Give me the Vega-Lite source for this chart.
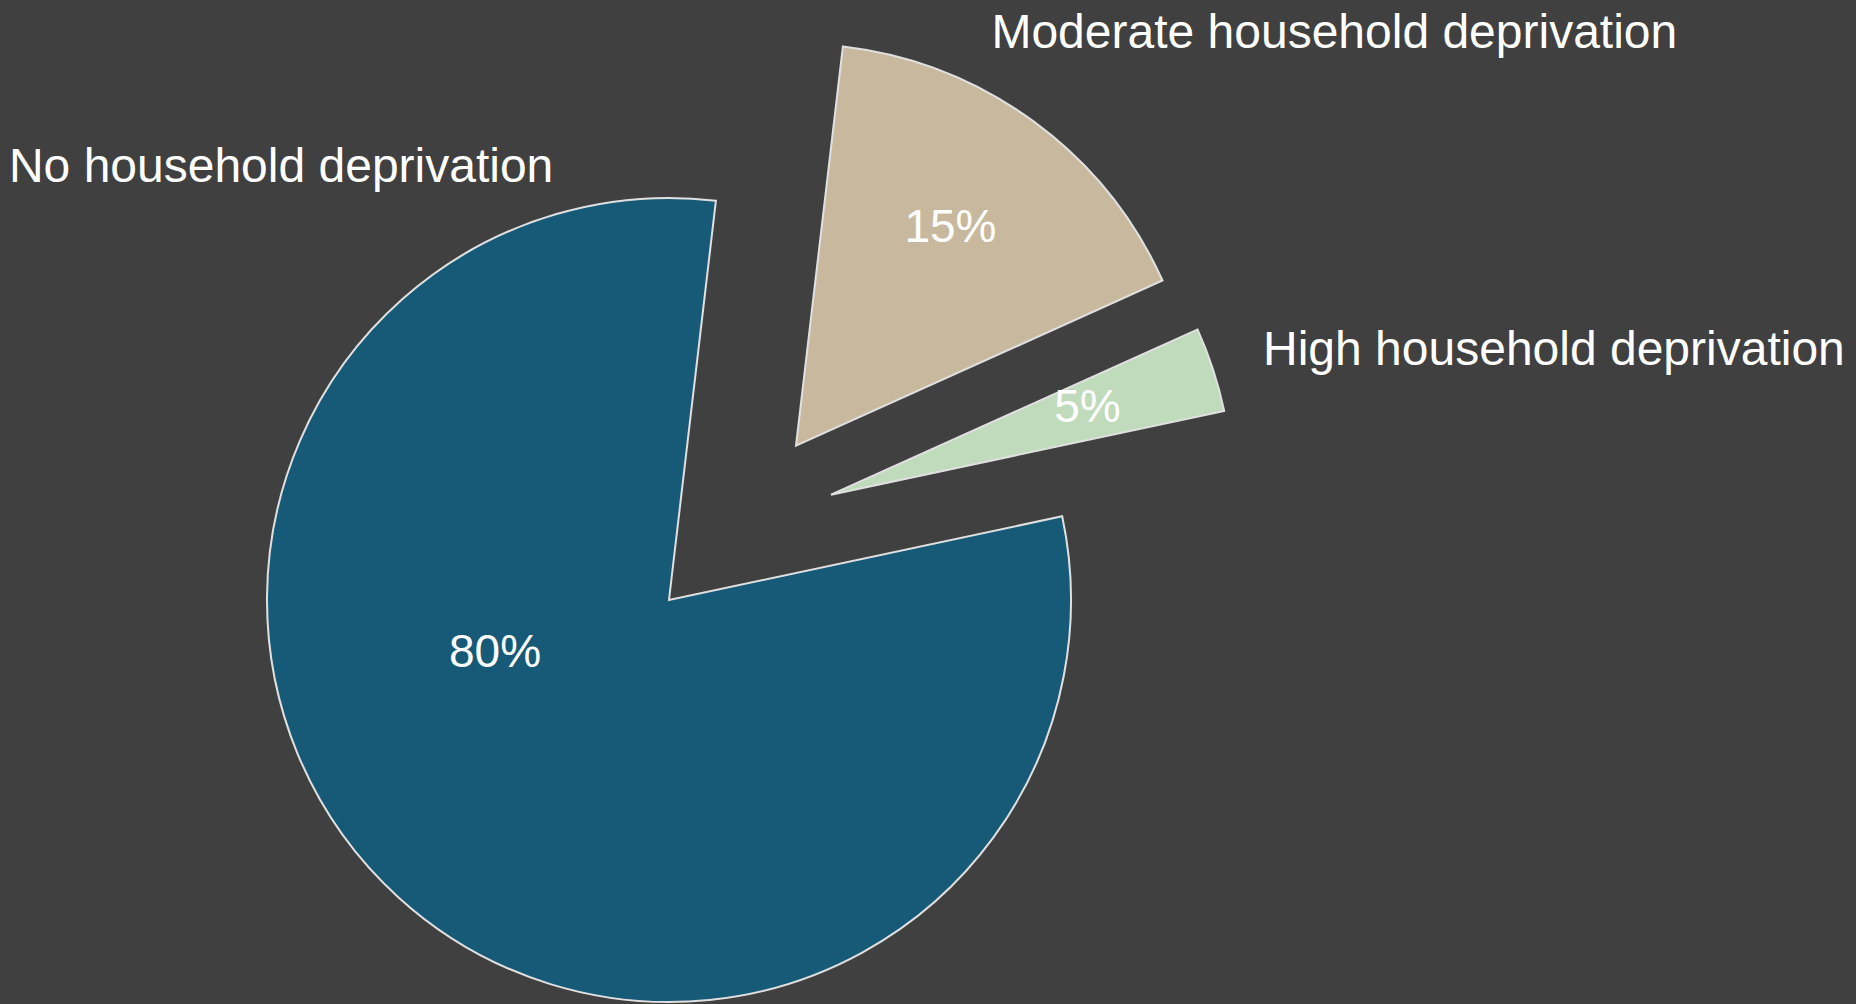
{
  "$schema": "https://vega.github.io/schema/vega-lite/v6.json",
  "width": 1338,
  "height": 808,
  "autosize": {"type": "none"},
  "padding": {"left": 0, "top": 196, "right": 518, "bottom": 0},
  "background": "#404040",
  "config": {"view": {"stroke": null}},
  "data": {
    "values": [
      {"category": "Moderate household deprivation", "value": 16.4, "label": "15%", "order": 1},
      {"category": "High household deprivation", "value": 3.4, "label": "5%", "order": 2},
      {"category": "No household deprivation", "value": 80.2, "label": "80%", "order": 3}
    ]
  },
  "transform": [
    {"stack": "value", "groupby": [], "sort": [{"field": "order", "order": "ascending"}], "as": ["v0", "v1"]},
    {"calculate": "(datum.v0 + datum.v1) / 2", "as": "mid"}
  ],
  "layer": [
    {
      "transform": [{"filter": "datum.category === 'No household deprivation'"}],
      "mark": {"type": "arc", "radius": 402, "stroke": "#e0e0e0", "strokeWidth": 2},
      "encoding": {
        "theta": {"field": "v0", "type": "quantitative", "scale": {"type": "linear", "domain": [0, 100], "range": [0.11694, 6.40013]}},
        "theta2": {"field": "v1"},
        "color": {"field": "category", "type": "nominal", "scale": {"domain": ["No household deprivation", "Moderate household deprivation", "High household deprivation"], "range": ["#175A77", "#C8B99E", "#BFDBBB"]}, "legend": null}
      }
    },
    {
      "transform": [{"filter": "datum.category === 'Moderate household deprivation'"}],
      "mark": {"type": "arc", "radius": 402, "stroke": "#e0e0e0", "strokeWidth": 2, "xOffset": 127, "yOffset": -154.3},
      "encoding": {
        "theta": {"field": "v0", "type": "quantitative", "scale": {"type": "linear", "domain": [0, 100], "range": [0.11694, 6.40013]}},
        "theta2": {"field": "v1"},
        "color": {"field": "category", "type": "nominal", "scale": {"domain": ["No household deprivation", "Moderate household deprivation", "High household deprivation"], "range": ["#175A77", "#C8B99E", "#BFDBBB"]}, "legend": null}
      }
    },
    {
      "transform": [{"filter": "datum.category === 'High household deprivation'"}],
      "mark": {"type": "arc", "radius": 402, "stroke": "#e0e0e0", "strokeWidth": 2, "xOffset": 162, "yOffset": -105.3},
      "encoding": {
        "theta": {"field": "v0", "type": "quantitative", "scale": {"type": "linear", "domain": [0, 100], "range": [0.11694, 6.40013]}},
        "theta2": {"field": "v1"},
        "color": {"field": "category", "type": "nominal", "scale": {"domain": ["No household deprivation", "Moderate household deprivation", "High household deprivation"], "range": ["#175A77", "#C8B99E", "#BFDBBB"]}, "legend": null}
      }
    },
    {
      "transform": [{"filter": "datum.category === 'No household deprivation'"}],
      "mark": {"type": "text", "radius": 180.4, "thetaOffset": 0.5641, "dy": 5, "font": "Liberation Sans", "fontSize": 46, "color": "#ffffff", "align": "center", "baseline": "middle"},
      "encoding": {
        "theta": {"field": "mid", "type": "quantitative", "scale": {"type": "linear", "domain": [0, 100], "range": [0.11694, 6.40013]}},
        "text": {"field": "label"}
      }
    },
    {
      "transform": [{"filter": "datum.category === 'Moderate household deprivation'"}],
      "mark": {"type": "text", "radius": 268.8, "thetaOffset": -0.0199, "dy": 2, "xOffset": 127, "yOffset": -154.3, "font": "Liberation Sans", "fontSize": 46, "color": "#ffffff", "align": "center", "baseline": "middle"},
      "encoding": {
        "theta": {"field": "mid", "type": "quantitative", "scale": {"type": "linear", "domain": [0, 100], "range": [0.11694, 6.40013]}},
        "text": {"field": "label"}
      }
    },
    {
      "transform": [{"filter": "datum.category === 'High household deprivation'"}],
      "mark": {"type": "text", "radius": 271.5, "thetaOffset": -0.0173, "dy": 2, "xOffset": 162, "yOffset": -105.3, "font": "Liberation Sans", "fontSize": 46, "color": "#ffffff", "align": "center", "baseline": "middle"},
      "encoding": {
        "theta": {"field": "mid", "type": "quantitative", "scale": {"type": "linear", "domain": [0, 100], "range": [0.11694, 6.40013]}},
        "text": {"field": "label"}
      }
    },
    {
      "transform": [{"filter": "datum.category === 'No household deprivation'"}],
      "mark": {"type": "text", "radius": 779.3, "thetaOffset": 1.3923, "dy": -3.5, "font": "Liberation Sans", "fontSize": 48, "color": "#ffffff", "align": "left", "baseline": "alphabetic"},
      "encoding": {
        "theta": {"field": "mid", "type": "quantitative", "scale": {"type": "linear", "domain": [0, 100], "range": [0.11694, 6.40013]}},
        "text": {"field": "category"}
      }
    },
    {
      "transform": [{"filter": "datum.category === 'Moderate household deprivation'"}],
      "mark": {"type": "text", "radius": 441, "thetaOffset": -0.1819, "dx": 3.5, "dy": -1, "xOffset": 127, "yOffset": -154.3, "font": "Liberation Sans", "fontSize": 48, "color": "#ffffff", "align": "left", "baseline": "alphabetic"},
      "encoding": {
        "theta": {"field": "mid", "type": "quantitative", "scale": {"type": "linear", "domain": [0, 100], "range": [0.11694, 6.40013]}},
        "text": {"field": "category"}
      }
    },
    {
      "transform": [{"filter": "datum.category === 'High household deprivation'"}],
      "mark": {"type": "text", "radius": 447.7, "thetaOffset": 0.0269, "dx": 3, "dy": -2, "xOffset": 162, "yOffset": -105.3, "font": "Liberation Sans", "fontSize": 48, "color": "#ffffff", "align": "left", "baseline": "alphabetic"},
      "encoding": {
        "theta": {"field": "mid", "type": "quantitative", "scale": {"type": "linear", "domain": [0, 100], "range": [0.11694, 6.40013]}},
        "text": {"field": "category"}
      }
    }
  ]
}
